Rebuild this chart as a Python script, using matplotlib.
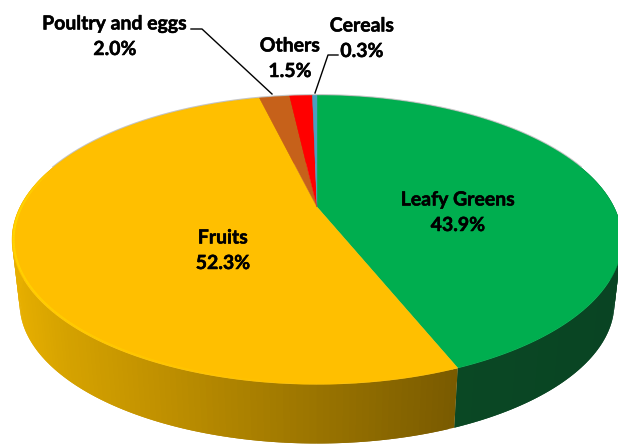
import numpy as np
import matplotlib
matplotlib.use("Agg")
import matplotlib.pyplot as plt
import matplotlib.patheffects as pe

categories = ["Leafy Greens", "Fruits", "Poultry and eggs", "Others", "Cereals"]
values = [43.9, 52.3, 2.0, 1.5, 0.3]
tick_labels = ["43.9%", "52.3%", "2.0%", "1.5%", "0.3%"]
top_colors = ["#00AE4F", "#FFBF00", "#C6611A", "#FF0000", "#4A9FC0"]

W, H = 618, 445
CX, K = 317.0, 0.2275
START = 0.0

plt.rcParams["font.family"] = ["Lato", "DejaVu Sans"]
fig = plt.figure(figsize=(W / 100, H / 100), dpi=100)
ax = fig.add_axes([0, 0, 1, 1])
ax.set_xlim(0, W)
ax.set_ylim(H, 0)
ax.axis("off")


def project(theta, r=1.0, a=297.0, b=137.0, cy=207.0):
    """Perspective projection of a disc point; theta clockwise from the back."""
    u = r * np.sin(theta)
    v = r * np.cos(theta)
    w = 1 + K * v
    return CX + a * u / w, cy - b * v / w


def bottom(theta):
    return project(theta, a=297.0 * 0.975, b=137.0 * 0.97, cy=271.5)


edges = np.radians(START + np.concatenate([[0], np.cumsum(values)]) * 360 / sum(values))


def lerp_color(x, xs, cols):
    c = np.array([matplotlib.colors.to_rgb(s) for s in cols])
    return tuple(np.interp(x, xs, c[:, i]) for i in range(3))


fruit_x = [10, 60, 150, 300, 455]
fruit_c = ["#E8B000", "#D6A300", "#C29200", "#9E7700", "#7A5B00"]
green_x = [455, 620]
green_c = ["#0A4824", "#094423"]

# side walls (each strip overlaps the next so no seams show)
for i, (t0, t1) in enumerate(zip(edges[:-1], edges[1:])):
    steps = max(2, int((t1 - t0) / np.radians(1.0)))
    ts = np.linspace(t0, t1, steps + 1)
    for n in range(steps):
        a0, a1 = ts[n], min(ts[n + 1] + np.radians(1.0), t1)
        x0, y0 = project(a0)
        x1, y1 = project(a1)
        x2, y2 = bottom(a1)
        x3, y3 = bottom(a0)
        xm = (x0 + project(ts[n + 1])[0]) / 2
        if categories[i] == "Fruits":
            col = lerp_color(xm, fruit_x, fruit_c)
        elif categories[i] == "Leafy Greens":
            col = lerp_color(xm, green_x, green_c)
        else:
            col = matplotlib.colors.to_rgb(top_colors[i])
        ax.fill([x0, x1, x2, x3], [y0, y1, y2, y3], color=col, lw=0, zorder=1)

# soft rim along the back of the top face only
ts = np.radians(np.linspace(-72, 72, 300))
rx, ry = project(ts)
ax.plot(rx, ry - 0.5, color="#C4C4C4", lw=1.2, zorder=1.5)

# top face
for i, (t0, t1) in enumerate(zip(edges[:-1], edges[1:])):
    ts = np.linspace(t0, t1, max(3, int(np.degrees(t1 - t0) * 2)))
    x, y = project(ts)
    ax.fill(np.r_[CX, x], np.r_[207.0, y], color=top_colors[i], lw=0.3, zorder=2)

# bright rim along the front of the yellow slice
ts = np.radians(np.linspace(182, 285, 110))
x, y = project(ts, r=0.995)
for j in range(len(ts) - 1):
    alpha = float(np.interp(np.degrees(ts[j]), [182, 225, 265, 285], [0.0, 0.4, 0.7, 0.2]))
    ax.plot(x[j:j + 2], y[j:j + 2], color="#FFE000", lw=1.5, alpha=alpha, zorder=3,
            solid_capstyle="butt")

# labels
stroke = [pe.withStroke(linewidth=0.35, foreground="black")]
label_pos = [(458, 200), (223, 238), (115, 24), (290, 46), (362, 26)]
for name, pct, (lx, ly) in zip(categories, tick_labels, label_pos):
    ax.text(lx, ly, name, ha="center", va="center", fontsize=14, fontweight="bold",
            color="black", zorder=5, path_effects=stroke)
    ax.text(lx, ly + 25.5, pct, ha="center", va="center", fontsize=14, fontweight="bold",
            color="black", zorder=5, path_effects=stroke)

# leader lines
ax.plot([191, 202, 272], [29, 29, 94], color="black", lw=1.0, zorder=4)
ax.plot([338, 328, 315], [55, 55, 93], color="black", lw=1.0, zorder=4)

fig.savefig("out.png", dpi=100, facecolor="white")
